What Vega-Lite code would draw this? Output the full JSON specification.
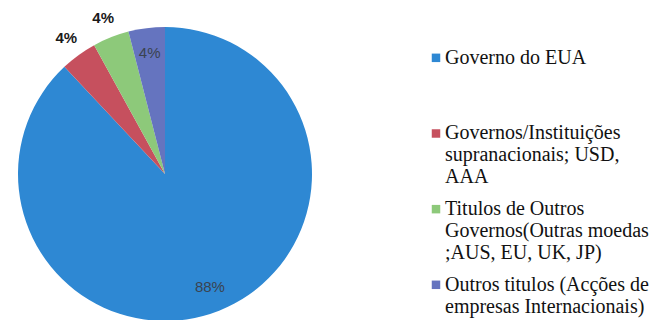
{
  "$schema": "https://vega.github.io/schema/vega-lite/v6.json",
  "padding": {"top": 10, "left": 0, "right": 0, "bottom": 0},
  "background": "white",
  "config": {"view": {"stroke": null}},
  "data": {"values": [
    {"k": 1, "cat": "Governo do EUA", "label": "Governo do EUA", "v": 88, "pct": "88%"},
    {"k": 2, "cat": "Governos/Instituições", "label": "Governos/Instituições|supranacionais; USD,|AAA", "v": 4, "pct": "4%"},
    {"k": 3, "cat": "Titulos de Outros Governos", "label": "Titulos de Outros|Governos(Outras moedas|;AUS, EU, UK, JP)", "v": 4, "pct": "4%"},
    {"k": 4, "cat": "Outros titulos", "label": "Outros titulos (Acções de|empresas Internacionais)", "v": 4, "pct": "4%"}
  ]},
  "hconcat": [
    {
      "width": 330,
      "height": 294,
      "encoding": {
        "theta": {"field": "v", "type": "quantitative", "stack": true},
        "order": {"field": "k", "type": "ordinal"}
      },
      "layer": [
        {
          "mark": {"type": "arc", "outerRadius": 147},
          "encoding": {
            "color": {
              "field": "cat", "type": "nominal", "legend": null,
              "scale": {
                "domain": ["Governo do EUA", "Governos/Instituições", "Titulos de Outros Governos", "Outros titulos"],
                "range": ["#2E88D3", "#C6505E", "#8DC97A", "#6574BF"]
              }
            }
          }
        },
        {
          "mark": {"type": "text", "font": "Liberation Sans, Arial, sans-serif", "fontSize": 15,
                   "radius": {"expr": "datum.k == 2 || datum.k == 3 ? 168 : 122"},
                   "fontWeight": {"expr": "datum.k == 2 || datum.k == 3 ? 'bold' : 'normal'"}},
          "encoding": {
            "color": {"condition": {"test": "datum.k == 2 || datum.k == 3", "value": "#1a1a1a"}, "value": "#3a4350"},
            "text": {"field": "pct"}
          }
        }
      ]
    },
    {
      "width": 220,
      "height": 294,
      "encoding": {
        "y": {"field": "cat", "type": "nominal", "axis": null,
              "sort": ["Governo do EUA", "Governos/Instituições", "Titulos de Outros Governos", "Outros titulos"],
              "scale": {"type": "point", "padding": 0.443, "align": 0.46}},
        "x": {"datum": 0, "type": "quantitative", "axis": null, "scale": {"domain": [0, 1]}}
      },
      "layer": [
        {
          "mark": {"type": "point", "shape": "square", "filled": true, "size": 72, "opacity": 1},
          "encoding": {
            "color": {
              "field": "cat", "type": "nominal", "legend": null,
              "scale": {
                "domain": ["Governo do EUA", "Governos/Instituições", "Titulos de Outros Governos", "Outros titulos"],
                "range": ["#2E88D3", "#C6505E", "#8DC97A", "#6574BF"]
              }
            }
          }
        },
        {
          "mark": {"type": "text", "align": "left", "baseline": "line-top", "lineHeight": 22, "dy": -11, "dx": 9, "lineBreak": "|", "font": "Liberation Serif, Times New Roman, serif", "fontSize": 20, "fill": "#111"},
          "encoding": {"text": {"field": "label"}}
        }
      ]
    }
  ],
  "spacing": 101
}
